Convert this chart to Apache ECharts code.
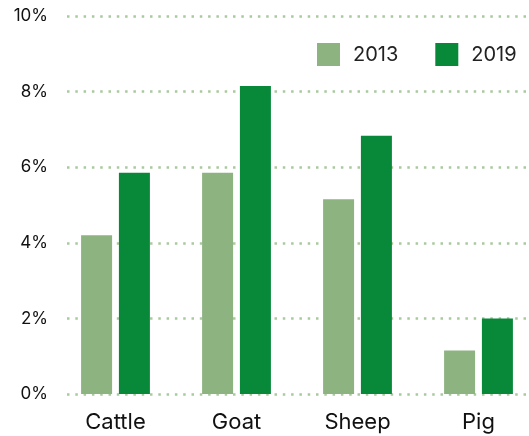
<!DOCTYPE html>
<html><head><meta charset="utf-8">
<script src="https://cdn.jsdelivr.net/npm/echarts@6/dist/echarts.min.js"></script>
<style>html,body{margin:0;padding:0;background:#fff}#c{width:529px;height:436px}</style>
</head><body><div id="c"></div>
<script>
const categories = ['Cattle', 'Goat', 'Sheep', 'Pig'];
const seriesNames = ['2013', '2019'];
const values2013 = [4.2, 5.85, 5.15, 1.15];
const values2019 = [5.85, 8.15, 6.83, 2.0];
const yMin = 0, yMax = 10, yInterval = 2;

const font = 'Inter, Roboto, sans-serif';
const chart = echarts.init(document.getElementById('c'), null, {renderer: 'canvas'});
chart.setOption({
  animation: false,
  textStyle: {fontFamily: font},
  legend: {
    left: 317, top: 43, padding: 0, itemWidth: 23, itemHeight: 23, itemGap: 37,
    icon: 'rect',
    textStyle: {fontSize: 20, color: '#222', fontFamily: font, padding: [0, 0, 0, 8]},
    data: seriesNames
  },
  grid: [
    {left: 55, width: 484, top: 16, bottom: 42, outerBoundsMode: 'none', containLabel: false},
    {left: 67, right: 0, top: 16, bottom: 42, outerBoundsMode: 'none', containLabel: false}
  ],
  xAxis: [
    {type: 'category', gridIndex: 0, data: categories,
     axisLine: {show: false}, axisTick: {show: false},
     axisLabel: {fontSize: 22, color: '#111', margin: 17, fontFamily: font}},
    {type: 'category', gridIndex: 1, data: categories, show: false}
  ],
  yAxis: [
    {type: 'value', gridIndex: 0, min: yMin, max: yMax, interval: yInterval,
     axisLabel: {show: false}, splitLine: {show: false}, axisLine: {show: false}},
    {type: 'value', gridIndex: 1, min: yMin, max: yMax, interval: yInterval,
     axisLine: {show: false}, axisTick: {show: false},
     axisLabel: {formatter: '{value}%', fontSize: 17, color: '#111', margin: 19, fontFamily: font},
     splitLine: {show: true, lineStyle: {color: '#a9c99e', width: 2.5, type: [2.5, 5.8]}}}
  ],
  series: [
    {name: seriesNames[0], type: 'bar', xAxisIndex: 0, yAxisIndex: 0, data: values2013,
     barWidth: 31, barGap: '22%', itemStyle: {color: '#8db381'}, z: 3},
    {name: seriesNames[1], type: 'bar', xAxisIndex: 0, yAxisIndex: 0, data: values2019,
     barWidth: 31, barGap: '22%', itemStyle: {color: '#088839'}, z: 3}
  ]
});
</script></body></html>
